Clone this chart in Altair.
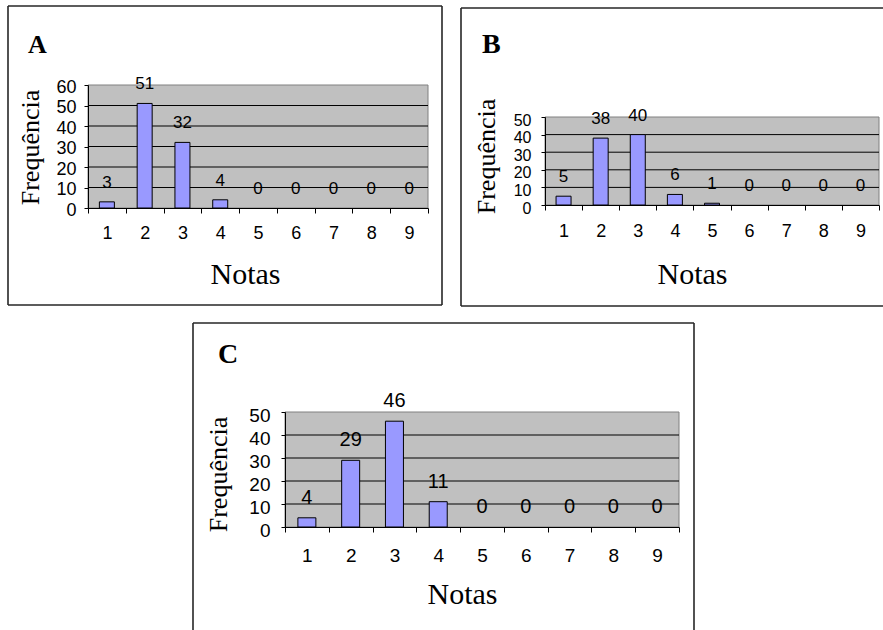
import altair as alt
import pandas as pd

# ---- data ----
notas = [1, 2, 3, 4, 5, 6, 7, 8, 9]
freq_a = [3, 51, 32, 4, 0, 0, 0, 0, 0]
freq_b = [5, 38, 40, 6, 1, 0, 0, 0, 0]
freq_c = [4, 29, 46, 11, 0, 0, 0, 0, 0]
panel_letters = ["A", "B", "C"]
y_max = [60, 50, 50]
y_ticks_a = [0, 10, 20, 30, 40, 50, 60]
y_ticks_bc = [0, 10, 20, 30, 40, 50]
grid_a = [10, 20, 30, 40, 50]
grid_bc = [10, 20, 30, 40]
x_title = "Notas"
y_title = "Frequência"

SANS = "Liberation Sans"
SERIF = "Liberation Serif"
BAR_FILL = "#9999FF"
PLOT_FILL = "#C0C0C0"
FRAME = "#262626"
W, H = 883, 630

# ---- layout (absolute pixels on the 883x630 canvas) ----
geom = {
    "A": dict(xr=(88, 428), yr=(208, 85),
              frame=[(8, 6, 442, 6), (8, 305, 442, 305), (8, 6, 8, 305), (442, 6, 442, 305)],
              letter=(28, 53, 26), ytitle=(-58, 147), xtitle=(245, 75),
              fs_y=18, fs_x=18, fs_lab=17, lpy=8, loy=2, lpx=11, bar=15),
    "B": dict(xr=(545, 879), yr=(205, 117),
              frame=[(461, 8, 883, 8), (461, 306, 883, 306), (461, 8, 461, 306)],
              letter=(482, 53, 28), ytitle=(-59, 156), xtitle=(692, 78),
              fs_y=16, fs_x=18, fs_lab=17, lpy=10, loy=3, lpx=12, bar=15),
    "C": dict(xr=(285, 679), yr=(527, 412),
              frame=[(193, 323, 694, 323), (193, 323, 193, 630), (694, 323, 694, 630)],
              letter=(218, 363, 28), ytitle=(-67, 474), xtitle=(462, 76),
              fs_y=19, fs_x=19, fs_lab=20, lpy=11, loy=3, lpx=14, bar=18),
}

one = pd.DataFrame({"k": [0]})


def make_panel(freqs, yticks, gridvals, letter, ymax):
    g = geom[letter]
    x0, x1 = g["xr"]
    yb, yt = g["yr"]
    df = pd.DataFrame({"nota": notas, "freq": freqs})
    gdf = pd.DataFrame({"g": gridvals})

    xscale = alt.Scale(domain=notas, range=[x0, x1], paddingInner=0, paddingOuter=0)
    yscale = alt.Scale(domain=[0, ymax], range=[yb, yt], nice=False)

    x_axis = alt.Axis(
        orient="bottom", offset=-(H - yb), zindex=1,
        title=x_title, labelAngle=0, tickBand="extent", ticks=True, tickSize=5,
        labelFontSize=g["fs_x"], labelPadding=g["lpx"], grid=False,
        titleFontSize=30, titleX=g["xtitle"][0], titleY=g["xtitle"][1],
        titleAlign="center", titleBaseline="alphabetic",
    )
    y_axis = alt.Axis(
        orient="left", offset=-x0, zindex=1,
        values=yticks, title=y_title, grid=False,
        tickSize=4, labelPadding=g["lpy"], labelFontSize=g["fs_y"],
        labelOffset=g["loy"], labelOverlap=False, labelFlush=False,
        titleAngle=270, titleX=g["ytitle"][0], titleY=g["ytitle"][1],
        titleAlign="center", titleBaseline="middle", titleFontSize=26,
    )

    layers = []
    layers.append(
        alt.Chart(one).mark_rect(fill=PLOT_FILL, stroke="#808080", strokeWidth=1).encode(
            x=alt.value(x0), x2=alt.value(x1), y=alt.value(yt), y2=alt.value(yb)
        )
    )
    layers.append(
        alt.Chart(gdf).mark_rule(color="black", strokeWidth=1).encode(
            y=alt.Y("g:Q", scale=yscale, axis=None), x=alt.value(x0), x2=alt.value(x1)
        )
    )
    layers.append(
        alt.Chart(df).transform_filter("datum.freq > 0")
        .mark_bar(size=g["bar"], fill=BAR_FILL, stroke="black", strokeWidth=1)
        .encode(
            x=alt.X("nota:O", scale=xscale, axis=x_axis),
            y=alt.Y("freq:Q", scale=yscale, axis=y_axis),
        )
    )
    layers.append(
        alt.Chart(df).mark_text(
            font=SANS, fontSize=g["fs_lab"], dy=-14, baseline="alphabetic", color="black"
        ).encode(
            x=alt.X("nota:O", scale=xscale, axis=None),
            y=alt.Y("freq:Q", scale=yscale, axis=None),
            text="freq:Q",
        )
    )
    lx, ly, lfs = g["letter"]
    layers.append(
        alt.Chart(one).mark_text(
            text=letter, font=SERIF, fontWeight="bold", fontSize=lfs,
            align="left", baseline="alphabetic", color="black",
        ).encode(x=alt.value(lx), y=alt.value(ly))
    )
    for (fx1, fy1, fx2, fy2) in g["frame"]:
        layers.append(
            alt.Chart(one).mark_rule(color=FRAME, strokeWidth=1.6).encode(
                x=alt.value(fx1), x2=alt.value(fx2), y=alt.value(fy1), y2=alt.value(fy2)
            )
        )
    return layers


all_layers = (
    make_panel(freq_a, y_ticks_a, grid_a, panel_letters[0], y_max[0])
    + make_panel(freq_b, y_ticks_bc, grid_bc, panel_letters[1], y_max[1])
    + make_panel(freq_c, y_ticks_bc, grid_bc, panel_letters[2], y_max[2])
)

chart = (
    alt.layer(*all_layers)
    .resolve_scale(x="independent", y="independent")
    .resolve_axis(x="independent", y="independent")
    .properties(width=W, height=H, padding=0, background="white",
                autosize=alt.AutoSizeParams(type="none"))
    .configure_view(stroke="transparent", fill="white")
    .configure_axis(
        domainColor="black", domainWidth=1, tickColor="black", labelColor="black",
        labelFont=SANS, titleFont=SERIF, titleFontWeight="normal", titleColor="black",
    )
)

chart.save("out.html", embed_options={"renderer": "svg", "actions": False})
